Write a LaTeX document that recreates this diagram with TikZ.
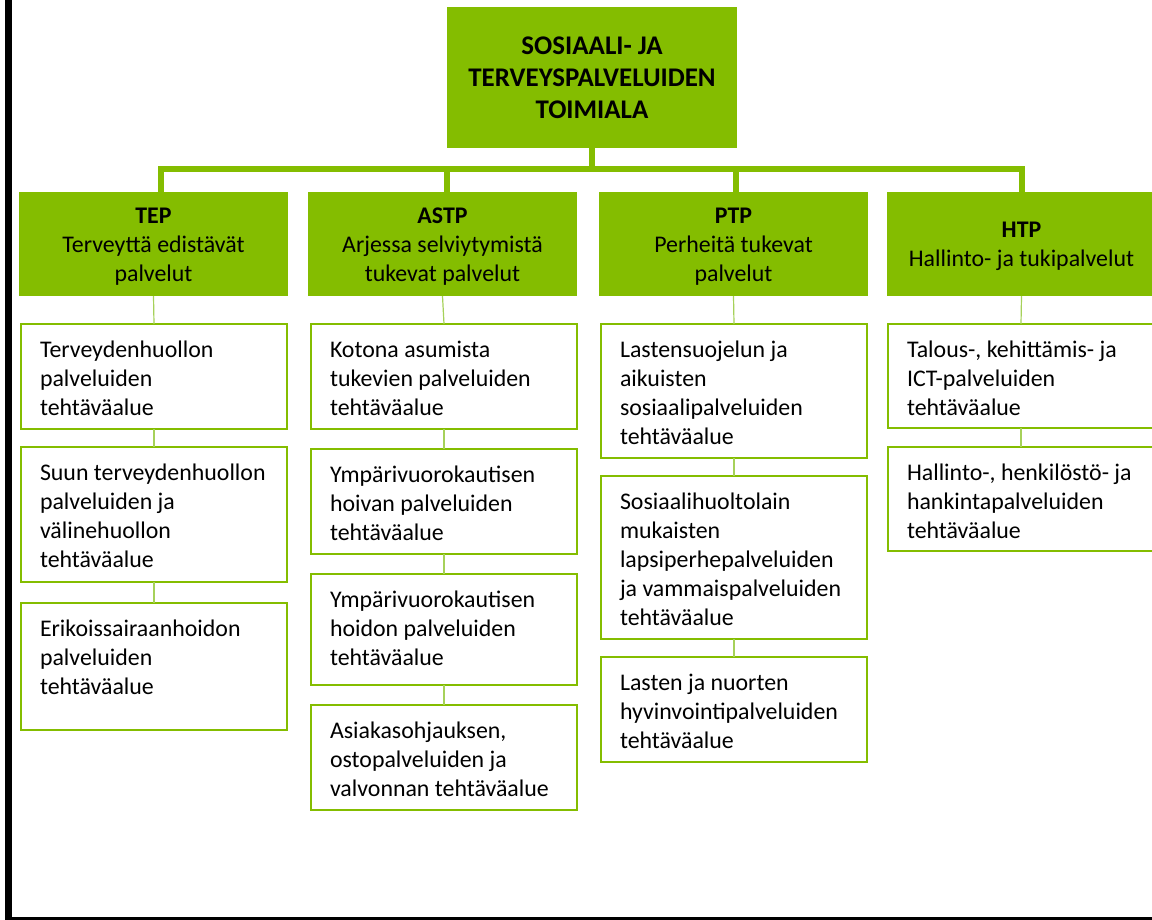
\documentclass[tikz,border=0pt]{standalone}
\usepackage{fontspec}
\setmainfont{Carlito}
\definecolor{gr}{HTML}{84BD00}
\definecolor{thinline}{HTML}{A6D15A}
\begin{document}
\begin{tikzpicture}[x=0.75pt,y=-0.75pt,
  gbox/.style={fill=gr, draw=none, inner sep=0pt, outer sep=0pt, anchor=north west, minimum width={269*0.75pt}, minimum height={104*0.75pt}},
  sbox/.style={fill=white, draw=gr, line width=1.9pt, inner sep=0pt, outer sep=0pt, anchor=north west, minimum width={266*0.75pt}},
  stxt/.style={inner sep=0pt, outer sep=0pt, anchor=north west, align=left, font=\fontsize{17.9}{21.75}\selectfont},
  gtxt/.style={inner sep=0pt, outer sep=0pt, anchor=north, align=center, font=\fontsize{17.9}{21.75}\selectfont},
  ttxt/.style={inner sep=0pt, outer sep=0pt, anchor=north, align=center, font=\fontsize{20.2}{24}\selectfont\bfseries},
  bar/.style={draw=gr, line width=4.5pt, line join=miter},
  conn/.style={draw=thinline, line width=0.9pt}
]
\useasboundingbox (0,0) rectangle (1152,920);
\fill[white] (0,0) rectangle (1152,920);
% black frame
\fill[black] (5,0) rectangle (12,920);
\fill[black] (5,917) rectangle (1152,920);

% top box
\node[fill=gr, inner sep=0pt, outer sep=0pt, anchor=north west, minimum width={290*0.75pt}, minimum height={141*0.75pt}] (top) at (447,7) {};
\node[ttxt] (topt) at (top.north) {\rule{0pt}{36pt}SOSIAALI- JA\\TERVEYSPALVELUIDEN\\TOIMIALA};

% level 2
\node[gbox] (tep) at (19,192) {};
\node[gbox] (astp) at (308,192) {};
\node[gbox] (ptp) at (599,192) {};
\node[gbox] (htp) at (887,192) {};
\node[gtxt] (tept) at (tep.north) {\rule{0pt}{23.25pt}\textbf{TEP}\\Terveyttä edistävät\\palvelut};
\node[gtxt] (astpt) at (astp.north) {\rule{0pt}{23.25pt}\textbf{ASTP}\\Arjessa selviytymistä\\tukevat palvelut};
\node[gtxt] (ptpt) at (ptp.north) {\rule{0pt}{23.25pt}\textbf{PTP}\\Perheitä tukevat\\palvelut};
\node[gtxt] (htpt) at (htp.north) {\rule{0pt}{33.75pt}\textbf{HTP}\\Hallinto- ja tukipalvelut};

% thick connectors
\path (top.south) ++(0,21) coordinate (bus);
\draw[bar] (top.south) -- (bus);
\draw[bar] ([xshift=5.25pt]tep.north) |- (bus) -| (htp.north);
\draw[bar] ([xshift=3.4pt]astp.north) -- ([xshift=3.4pt]astp.north |- bus);
\draw[bar] ([xshift=1.9pt]ptp.north) -- ([xshift=1.9pt]ptp.north |- bus);

% sub boxes TEP
\node[sbox, minimum height={105*0.75pt}] (t1) at (21,324) {};
\node[sbox, minimum height={135*0.75pt}] (t2) at (21,447) {};
\node[sbox, minimum height={127*0.75pt}] (t3) at (21,603) {};
% ASTP
\node[sbox, minimum height={105*0.75pt}] (a1) at (311,324) {};
\node[sbox, minimum height={105*0.75pt}] (a2) at (311,449) {};
\node[sbox, minimum height={111*0.75pt}] (a3) at (311,574) {};
\node[sbox, minimum height={105*0.75pt}] (a4) at (311,705) {};
% PTP
\node[sbox, minimum height={134*0.75pt}] (p1) at (601,324) {};
\node[sbox, minimum height={163*0.75pt}] (p2) at (601,476) {};
\node[sbox, minimum height={105*0.75pt}] (p3) at (601,657) {};
% HTP
\node[sbox, minimum height={104*0.75pt}] (h1) at (888,324) {};
\node[sbox, minimum height={104*0.75pt}] (h2) at (888,447) {};

% thin connectors
\draw[conn] (tep.south) -- (t1.north);
\draw[conn] (t1.south) -- (t2.north);
\draw[conn] (t2.south) -- (t3.north);
\draw[conn] (astp.south) -- (a1.north);
\draw[conn] (a1.south) -- (a2.north);
\draw[conn] (a2.south) -- (a3.north);
\draw[conn] (a3.south) -- (a4.north);
\draw[conn] (ptp.south) -- (p1.north);
\draw[conn] (p1.south) -- (p2.north);
\draw[conn] (p2.south) -- (p3.north);
\draw[conn] (htp.south) -- (h1.north);
\draw[conn] (h1.south) -- (h2.north);

% sub box texts
\node[stxt] (t1t) at ([xshift=14.25pt]t1.north west) {\rule{0pt}{24.75pt}Terveydenhuollon\\palveluiden\\tehtäväalue};
\node[stxt] (t2t) at ([xshift=14.25pt]t2.north west) {\rule{0pt}{24.75pt}Suun terveydenhuollon\\palveluiden ja\\välinehuollon\\tehtäväalue};
\node[stxt] (t3t) at ([xshift=14.25pt]t3.north west) {\rule{0pt}{24.75pt}Erikoissairaanhoidon\\palveluiden\\tehtäväalue};
\node[stxt] (a1t) at ([xshift=14.25pt]a1.north west) {\rule{0pt}{24.75pt}Kotona asumista\\tukevien palveluiden\\tehtäväalue};
\node[stxt] (a2t) at ([xshift=14.25pt]a2.north west) {\rule{0pt}{24.75pt}Ympärivuorokautisen\\hoivan palveluiden\\tehtäväalue};
\node[stxt] (a3t) at ([xshift=14.25pt]a3.north west) {\rule{0pt}{24.75pt}Ympärivuorokautisen\\hoidon palveluiden\\tehtäväalue};
\node[stxt] (a4t) at ([xshift=14.25pt]a4.north west) {\rule{0pt}{24.75pt}Asiakasohjauksen,\\ostopalveluiden ja\\valvonnan tehtäväalue};
\node[stxt] (p1t) at ([xshift=14.25pt]p1.north west) {\rule{0pt}{24.75pt}Lastensuojelun ja\\aikuisten\\sosiaalipalveluiden\\tehtäväalue};
\node[stxt] (p2t) at ([xshift=14.25pt]p2.north west) {\rule{0pt}{24.75pt}Sosiaalihuoltolain\\mukaisten\\lapsiperhepalveluiden\\ja vammaispalveluiden\\tehtäväalue};
\node[stxt] (p3t) at ([xshift=14.25pt]p3.north west) {\rule{0pt}{24.75pt}Lasten ja nuorten\\hyvinvointipalveluiden\\tehtäväalue};
\node[stxt] (h1t) at ([xshift=14.25pt]h1.north west) {\rule{0pt}{24.75pt}Talous-, kehittämis- ja\\ICT-palveluiden\\tehtäväalue};
\node[stxt] (h2t) at ([xshift=14.25pt]h2.north west) {\rule{0pt}{24.75pt}Hallinto-, henkilöstö- ja\\hankintapalveluiden\\tehtäväalue};
\end{tikzpicture}
\end{document}
